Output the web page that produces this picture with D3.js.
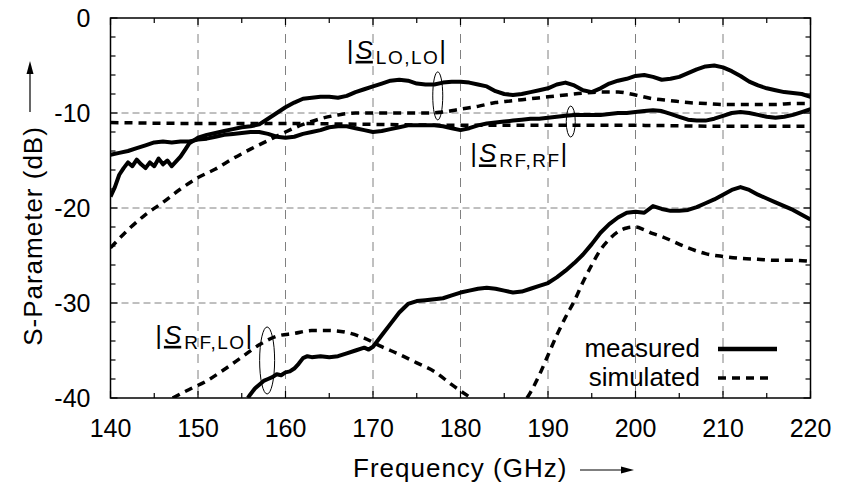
<!DOCTYPE html>
<html lang="en">
<head>
    <meta charset="UTF-8">
    <title>S-Parameter</title>
    <script src="https://d3js.org/d3.v7.min.js"></script>
    <style>
        body { margin: 0; background: #fff; }
        svg { font-family: "Liberation Sans", Arial, Helvetica, sans-serif; }
        .grid line { stroke: #808080; stroke-width: 1; }
        .frame { fill: none; stroke: #000; stroke-width: 1.5; }
        .tick-mark { stroke: #000; stroke-width: 1.2; }
        .tick-label { font-size: 25px; fill: #000; }
        .title { font-size: 26px; letter-spacing: 1px; fill: #000; }
        .meas { fill: none; stroke: #000; stroke-width: 4; stroke-linejoin: round; }
        .sim { fill: none; stroke: #000; stroke-width: 3.5; stroke-dasharray: 8,6; }
        .ring { fill: none; stroke: #000; stroke-width: 1; }
        .note { font-size: 26px; fill: #000; }
        .legend { font-size: 26px; fill: #000; }
    </style>
</head>
<body>
<script>
    const width = 854;
    const height = 485;
    const margin = {left: 110.5, right: 43.5, top: 18, bottom: 87};

    // axis ticks
    const xTicks = [140, 150, 160, 170, 180, 190, 200, 210, 220];
    const yTicks = [0, -10, -20, -30, -40];
    const xMinor = d3.range(140, 221, 5);
    const yMinor = d3.range(0, -41, -2);

    // measured |S_LO,LO|  [GHz, dB]
    const measLoLo = [
        [140,-18.8],[140.5,-17.8],[141,-16.5],[141.5,-15.8],[142,-15.2],[142.5,-15.6],[143,-14.9],
        [143.5,-15.4],[144,-15.8],[144.5,-15.2],[145,-15.6],[145.5,-14.8],[146,-15.4],[146.5,-15.0],
        [147,-15.6],[147.5,-15.1],[148,-14.6],[148.5,-13.9],[149,-13.2],[150,-12.6],[151,-12.3],
        [152,-12.1],[153,-11.9],[154,-11.7],[155,-11.5],[156,-11.4],[157,-11.2],[158,-10.6],
        [159,-10.0],[160,-9.4],[161,-8.9],[162,-8.5],[163,-8.4],[164,-8.3],[165,-8.3],[166,-8.4],
        [167,-8.2],[168,-7.8],[169,-7.5],[170,-7.2],[171,-6.9],[172,-6.6],[173,-6.5],[174,-6.6],
        [175,-6.9],[176,-7.0],[177,-7.0],[178,-6.8],[179,-6.7],[180,-6.7],[181,-6.8],[182,-7.0],
        [183,-7.2],[184,-7.7],[185,-8.0],[186,-8.1],[187,-8.0],[188,-7.8],[189,-7.6],[190,-7.4],
        [191,-7.0],[192,-6.8],[193,-7.1],[194,-7.6],[195,-7.8],[196,-7.4],[197,-6.9],[198,-6.6],
        [199,-6.4],[200,-6.1],[201,-6.0],[202,-6.2],[203,-6.5],[204,-6.4],[205,-6.2],[206,-5.8],
        [207,-5.4],[208,-5.1],[209,-5.0],[210,-5.2],[211,-5.6],[212,-6.1],[213,-6.7],[214,-7.1],
        [215,-7.4],[216,-7.6],[217,-7.8],[218,-7.9],[219,-8.0],[220,-8.3]
    ];

    // measured |S_RF,RF|
    const measRfRf = [
        [140,-14.4],[141,-14.2],[142,-14.0],[143,-13.7],[144,-13.4],[145,-13.1],[146,-13.0],
        [147,-13.1],[148,-13.0],[149,-13.0],[150,-12.8],[151,-12.7],[152,-12.5],[153,-12.3],
        [154,-12.2],[155,-12.1],[156,-12.0],[157,-12.0],[158,-12.2],[159,-12.5],[160,-12.6],
        [161,-12.5],[162,-12.2],[163,-12.0],[164,-11.8],[165,-11.5],[166,-11.4],[167,-11.4],
        [168,-11.6],[169,-11.8],[170,-12.0],[171,-11.9],[172,-11.7],[173,-11.5],[174,-11.3],
        [175,-11.3],[176,-11.3],[177,-11.3],[178,-11.4],[179,-11.6],[180,-11.8],[181,-11.6],
        [182,-11.3],[183,-11.1],[184,-11.0],[185,-10.9],[186,-10.8],[187,-10.7],[188,-10.6],
        [189,-10.6],[190,-10.5],[191,-10.4],[192,-10.3],[193,-10.2],[194,-10.2],[195,-10.2],
        [196,-10.2],[197,-10.1],[198,-10.0],[199,-10.0],[200,-9.9],[201,-9.8],[202,-9.7],
        [203,-9.8],[204,-10.1],[205,-10.4],[206,-10.7],[207,-10.8],[208,-10.8],[209,-10.6],
        [210,-10.3],[211,-10.0],[212,-9.9],[213,-10.0],[214,-10.2],[215,-10.4],[216,-10.5],
        [217,-10.4],[218,-10.2],[219,-9.9],[220,-9.6]
    ];

    // measured |S_RF,LO|
    const measRfLo = [
        [155.7,-40],[156,-39.6],[156.5,-39.0],[157,-38.6],[157.5,-38.2],[158,-38.0],[158.5,-37.8],
        [159,-37.5],[159.5,-37.6],[160,-37.3],[160.5,-37.2],[161,-36.9],[161.5,-36.4],[162,-35.8],
        [162.5,-35.6],[163,-35.7],[164,-35.6],[165,-35.7],[166,-35.6],[167,-35.3],[168,-35.0],
        [169,-34.7],[169.5,-34.9],[170,-34.6],[171,-33.4],[172,-32.2],[173,-31.0],[174,-30.1],
        [175,-29.8],[176,-29.7],[177,-29.6],[178,-29.5],[179,-29.2],[180,-28.9],[181,-28.7],
        [182,-28.5],[183,-28.4],[184,-28.5],[185,-28.7],[186,-28.9],[187,-28.8],[188,-28.5],
        [189,-28.2],[190,-27.9],[191,-27.3],[192,-26.6],[193,-25.8],[194,-24.9],[195,-23.8],
        [196,-22.6],[197,-21.7],[198,-21.0],[199,-20.5],[200,-20.4],[201,-20.5],[202,-19.8],
        [203,-20.1],[204,-20.3],[205,-20.3],[206,-20.2],[207,-19.9],[208,-19.5],[209,-19.1],
        [210,-18.6],[211,-18.1],[212,-17.8],[213,-18.1],[214,-18.6],[215,-19.0],[216,-19.4],
        [217,-19.8],[218,-20.2],[219,-20.7],[220,-21.2]
    ];

    // simulated curves
    const simLoLo = [
        [140,-24.2],[142,-22.3],[144,-20.7],[146,-19.4],[148,-18.0],[150,-16.8],[152,-15.9],
        [154,-14.8],[156,-13.8],[158,-12.9],[160,-12.0],[162,-11.2],[164,-10.6],[166,-10.2],
        [168,-10.0],[170,-10.0],[172,-10.0],[174,-10.0],[176,-10.0],[178,-9.9],[180,-9.6],
        [182,-9.3],[184,-8.9],[186,-8.7],[188,-8.5],[190,-8.3],[192,-8.1],[194,-7.9],[196,-7.8],
        [198,-7.8],[200,-8.1],[202,-8.5],[204,-8.7],[206,-8.9],[208,-9.0],[210,-9.1],[212,-9.1],
        [214,-9.1],[216,-9.1],[218,-9.0],[220,-9.0]
    ];

    const simRfRf = [
        [140,-11.0],[150,-11.1],[160,-11.1],[170,-11.2],[180,-11.3],[190,-11.3],[200,-11.3],
        [210,-11.4],[220,-11.4]
    ];

    // null = curve below the plotted range
    const simRfLo = [
        [147.1,-40],[149,-39.1],[151,-38.2],[153,-37.0],[155,-35.7],[157,-34.4],[159,-33.5],
        [161,-33.2],[163,-32.9],[165,-32.9],[167,-33.1],[169,-33.7],[171,-34.6],[173,-35.4],
        [175,-36.3],[177,-37.2],[179,-38.6],[181.2,-40],[184,null],
        [187.6,-40],[188,-39.4],[189,-37.6],[190,-35.5],[191,-33.4],[192,-31.5],[193,-29.8],
        [194,-27.8],[195,-26.0],[196,-24.4],[197,-23.3],[198,-22.5],[199,-22.1],[200,-22.0],
        [201,-22.3],[202,-22.7],[203,-23.0],[204,-23.4],[206,-24.2],[208,-24.8],[210,-25.1],
        [212,-25.3],[214,-25.4],[216,-25.5],[218,-25.5],[220,-25.6]
    ];

    // annotation labels: text, sub, anchor [GHz, dB]; ellipse centre [GHz, dB]
    const notes = [
        {main: "S", sub: "LO,LO", at: [167.0, -4.3], ring: [177.4, -8.2], rx: 5, ry: 24},
        {main: "S", sub: "RF,RF", at: [181.1, -15.2], ring: [192.6, -10.9], rx: 4.5, ry: 15.5},
        {main: "S", sub: "RF,LO", at: [145.1, -34.3], ring: [157.9, -36.05], rx: 7.5, ry: 33.5}
    ];

    const legendItems = ["measured", "simulated"];

    const svg = d3.select("body").append("svg")
            .attr("width", width).attr("height", height);

    const x = d3.scaleLinear().domain([140, 220])
            .range([margin.left, width - margin.right]);
    const y = d3.scaleLinear().domain([-40, 0])
            .range([height - margin.bottom, margin.top]);

    const x0 = x.range()[0], x1 = x.range()[1];
    const y0 = y.range()[0], y1 = y.range()[1];

    // grid
    const grid = svg.append("g").attr("class", "grid");
    grid.selectAll("line.v")
        .data(xTicks.slice(1, -1))
        .enter().append("line")
        .attr("x1", d => x(d)).attr("x2", d => x(d))
        .attr("y1", y1).attr("y2", y0)
        .attr("stroke-dasharray", "9,7");
    grid.selectAll("line.h")
        .data(yTicks.slice(1, -1))
        .enter().append("line")
        .attr("x1", x0).attr("x2", x1)
        .attr("y1", d => y(d)).attr("y2", d => y(d))
        .attr("stroke-dasharray", "7,4");

    // tick marks on all four sides
    const ticks = svg.append("g");
    xMinor.forEach(function(d) {
        const len = d % 10 === 0 ? 7 : 5;
        ticks.append("line").attr("class", "tick-mark")
            .attr("x1", x(d)).attr("x2", x(d)).attr("y1", y0).attr("y2", y0 - len);
        ticks.append("line").attr("class", "tick-mark")
            .attr("x1", x(d)).attr("x2", x(d)).attr("y1", y1).attr("y2", y1 + len);
    });
    yMinor.forEach(function(d) {
        const len = d % 10 === 0 ? 7 : 5;
        ticks.append("line").attr("class", "tick-mark")
            .attr("x1", x0).attr("x2", x0 + len).attr("y1", y(d)).attr("y2", y(d));
        ticks.append("line").attr("class", "tick-mark")
            .attr("x1", x1).attr("x2", x1 - len).attr("y1", y(d)).attr("y2", y(d));
    });

    svg.selectAll("text.xl")
        .data(xTicks)
        .enter().append("text")
        .attr("class", "tick-label")
        .attr("x", d => x(d)).attr("y", y0 + 39)
        .attr("text-anchor", "middle")
        .text(d => d);

    svg.selectAll("text.yl")
        .data(yTicks)
        .enter().append("text")
        .attr("class", "tick-label")
        .attr("x", x0 - 20).attr("y", d => y(d))
        .attr("dy", "0.35em")
        .attr("text-anchor", "end")
        .text(d => d);

    // curves
    svg.append("clipPath").attr("id", "plot")
        .append("rect")
        .attr("x", x0).attr("y", y1)
        .attr("width", x1 - x0).attr("height", y0 - y1);

    const rawLine = d3.line()
        .defined(d => d[1] !== null)
        .x(d => x(d[0])).y(d => y(d[1]));
    const smoothLine = d3.line()
        .defined(d => d[1] !== null)
        .curve(d3.curveMonotoneX)
        .x(d => x(d[0])).y(d => y(d[1]));

    const curves = svg.append("g").attr("clip-path", "url(#plot)");
    [simLoLo, simRfRf, simRfLo].forEach(function(s) {
        curves.append("path").attr("class", "sim").attr("d", smoothLine(s));
    });
    [measLoLo, measRfRf, measRfLo].forEach(function(s) {
        curves.append("path").attr("class", "meas").attr("d", rawLine(s));
    });

    svg.append("rect").attr("class", "frame")
        .attr("x", x0).attr("y", y1)
        .attr("width", x1 - x0).attr("height", y0 - y1);

    // annotations
    notes.forEach(function(n) {
        svg.append("ellipse").attr("class", "ring")
            .attr("cx", x(n.ring[0])).attr("cy", y(n.ring[1]))
            .attr("rx", n.rx).attr("ry", n.ry);
        const t = svg.append("text").attr("class", "note")
            .attr("x", x(n.at[0])).attr("y", y(n.at[1]));
        t.append("tspan").text("|");
        t.append("tspan").attr("dx", 2)
            .style("font-style", "italic")
            .style("text-decoration", "underline")
            .text(n.main);
        t.append("tspan").attr("dx", 3).attr("dy", 5)
            .style("font-size", "19px").style("letter-spacing", "1.5px")
            .text(n.sub);
        t.append("tspan").attr("dy", -5).text("|");
    });

    // axis titles with arrows
    svg.append("text").attr("class", "title")
        .attr("transform", "translate(42,236) rotate(-90)")
        .attr("text-anchor", "middle")
        .text("S-Parameter (dB)");
    svg.append("line").attr("x1", 30).attr("x2", 30).attr("y1", 112).attr("y2", 72)
        .attr("stroke", "#000").attr("stroke-width", 1.2);
    svg.append("path").attr("d", "M30,61 L26.5,74 L33.5,74 Z").attr("fill", "#000");

    svg.append("text").attr("class", "title")
        .attr("x", 353).attr("y", 477)
        .text("Frequency (GHz)");
    svg.append("line").attr("x1", 580).attr("x2", 622).attr("y1", 470).attr("y2", 470)
        .attr("stroke", "#000").attr("stroke-width", 1.2);
    svg.append("path").attr("d", "M634,470 L621,466.5 L621,473.5 Z").attr("fill", "#000");

    // legend
    const lg = svg.append("g");
    legendItems.forEach(function(name, i) {
        const ly = 357 + i * 29;
        lg.append("text").attr("class", "legend")
            .attr("x", 700).attr("y", ly)
            .attr("text-anchor", "end")
            .text(name);
        lg.append("line")
            .attr("class", i === 0 ? "meas" : "sim")
            .attr("x1", 718).attr("x2", i === 0 ? 777 : 768)
            .attr("y1", ly - 8).attr("y2", ly - 8)
            .style("stroke-width", i === 0 ? 4.5 : 3.5);
    });
</script>

</body>
</html>
